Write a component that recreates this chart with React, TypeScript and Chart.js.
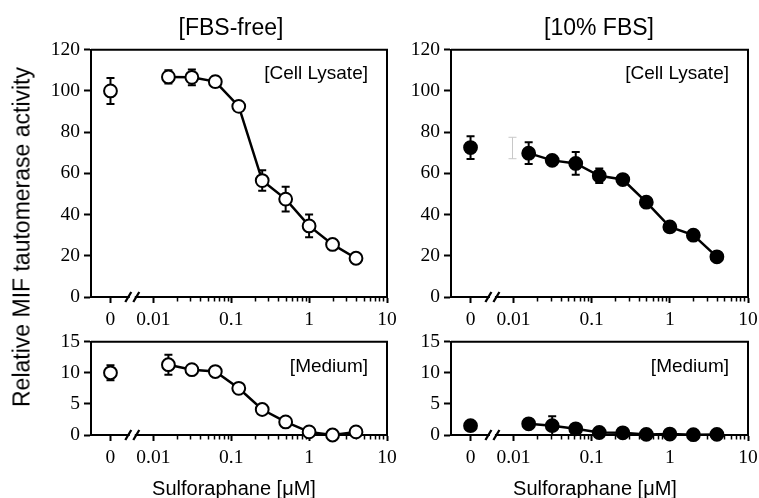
import React, { useEffect, useRef } from "react";
import { Chart, registerables } from "chart.js";

Chart.register(...registerables);

// ---------- data ----------
const concentrations = [0.015625, 0.03125, 0.0625, 0.125, 0.25, 0.5, 1, 2, 4];

const freeLysateZero = 100;
const freeLysateZeroErr = 6.3;
const freeLysate = [106.8, 106.6, 104.5, 92.5, 56.5, 47.5, 34.5, 25.5, 18.8];
const freeLysateErr = [3.2, 3.8, 2.5, 0, 5, 6, 5.5, 1, 0.8];

const fbsLysateZero = 72.5;
const fbsLysateZeroErr = 5.5;
const fbsLysate = [69.8, 66.3, 64.8, 58.8, 57, 46, 34, 30, 19.5];
const fbsLysateErr = [5.3, 1.5, 5.5, 3.5, 1.5, 2, 1.5, 1.5, 1];
const fbsLysateGhost = 72.3;
const fbsLysateGhostErr = 5.2;
const fbsLysateGhostConc = 0.0097;

const freeMediumZero = 10;
const freeMediumZeroErr = 1.2;
const freeMedium = [11.3, 10.5, 10.2, 7.5, 4.1, 2.1, 0.5, 0, 0.5];
const freeMediumErr = [1.6, 0.4, 0.6, 0.4, 0.7, 0.3, 0.4, 0.2, 0.3];

const fbsMediumZero = 1.5;
const fbsMediumZeroErr = 0.3;
const fbsMedium = [1.8, 1.5, 1.0, 0.4, 0.35, 0.1, 0.15, 0.05, 0.1];
const fbsMediumErr = [0.3, 1.5, 0.4, 0.3, 0.3, 0.5, 0.6, 0.2, 0.2];

// x axis: the "0" dose is drawn left of a break in the log axis
const ZERO_POS = Math.pow(10, -2.55);
const BREAK_POS = Math.pow(10, -2.27);
const X_MIN = Math.pow(10, -2.8);
const X_MAX = 10;
const xTickValues = [ZERO_POS, 0.01, 0.1, 1, 10];
const xTickLabels = ["0", "0.01", "0.1", "1", "10"];
const minorDecades = [0.01, 0.1, 1];
const minorMultipliers = [2, 3, 4, 5, 6, 7, 8, 9];

const topYMax = 120;
const topYStep = 20;
const bottomYMax = 15;
const bottomYStep = 5;

// ---------- layout ----------
const YW = 70;
const PT = 14;
const PR = 16;
const XH = 40;

const SERIF = "'Liberation Serif', 'Times New Roman', serif";
const SANS = "'Liberation Sans', Arial, sans-serif";

const decorPlugin = {
  id: "decor",
  beforeDatasetsDraw(chart: any) {
    const { ctx, chartArea } = chart;
    const xs = chart.scales.x;
    const { left, right, top, bottom } = chartArea;
    ctx.save();
    // frame top & right
    ctx.strokeStyle = "#000";
    ctx.lineWidth = 2;
    ctx.beginPath();
    ctx.moveTo(left, top);
    ctx.lineTo(right, top);
    ctx.lineTo(right, bottom);
    ctx.stroke();
    // minor ticks
    ctx.lineWidth = 1.5;
    ctx.beginPath();
    minorDecades.forEach((d) => {
      minorMultipliers.forEach((m) => {
        const px = Math.round(xs.getPixelForValue(d * m)) + 0.5;
        ctx.moveTo(px, bottom);
        ctx.lineTo(px, bottom + 4.5);
      });
    });
    ctx.stroke();
    // axis break
    const bx = xs.getPixelForValue(BREAK_POS);
    ctx.fillStyle = "#fff";
    ctx.fillRect(bx - 2.5, bottom - 2, 5, 4);
    ctx.lineWidth = 2.3;
    ctx.beginPath();
    ctx.moveTo(bx - 7, bottom + 5);
    ctx.lineTo(bx - 1, bottom - 5);
    ctx.moveTo(bx + 1, bottom + 5);
    ctx.lineTo(bx + 7, bottom - 5);
    ctx.stroke();
    // error bars
    const ys = chart.scales.y;
    chart.data.datasets.forEach((ds: any, di: number) => {
      const errs = ds.errors;
      if (!errs) return;
      const meta = chart.getDatasetMeta(di);
      ctx.strokeStyle = ds.errColor || "#000";
      ctx.lineWidth = ds.errWidth || 2;
      meta.data.forEach((pt: any, i: number) => {
        const e = errs[i];
        if (!e) return;
        const v = ds.data[i].y;
        const x = pt.x;
        const yt = ys.getPixelForValue(v + e);
        const yb = ys.getPixelForValue(v - e);
        const cw = 4;
        ctx.beginPath();
        ctx.moveTo(x, yt);
        ctx.lineTo(x, yb);
        ctx.moveTo(x - cw, yt);
        ctx.lineTo(x + cw, yt);
        ctx.moveTo(x - cw, yb);
        ctx.lineTo(x + cw, yb);
        ctx.stroke();
      });
    });
    ctx.restore();
  },
};

type PanelProps = {
  plotLeft: number;
  plotTop: number;
  plotW: number;
  plotH: number;
  yMax: number;
  yStep: number;
  filled: boolean;
  zeroVal: number;
  zeroErr: number;
  vals: number[];
  errs: number[];
  ghost?: { x: number; y: number; err: number };
};

function Panel(p: PanelProps) {
  const ref = useRef<HTMLCanvasElement | null>(null);
  const cw = YW + p.plotW + PR;
  const ch = PT + p.plotH + XH;
  useEffect(() => {
    const canvas = ref.current!;
    const fill = p.filled ? "#000" : "#fff";
    const pointStyle = {
      pointRadius: 6.4,
      pointBackgroundColor: fill,
      pointBorderColor: "#000",
      pointBorderWidth: 2,
      pointHoverRadius: 6.4,
    };
    const datasets: any[] = [];
    if (p.ghost) {
      datasets.push({
        data: [{ x: p.ghost.x, y: p.ghost.y }],
        errors: [p.ghost.err],
        errColor: "#c8c8c8",
        errWidth: 1,
        pointRadius: 0,
        showLine: false,
        clip: false,
      });
    }
    datasets.push({
      data: [{ x: ZERO_POS, y: p.zeroVal }],
      errors: [p.zeroErr],
      showLine: false,
      clip: false,
      ...pointStyle,
    });
    datasets.push({
      data: concentrations.map((c, i) => ({ x: c, y: p.vals[i] })),
      errors: p.errs,
      showLine: true,
      borderColor: "#000",
      borderWidth: 2.5,
      clip: false,
      ...pointStyle,
    });
    const tickFont = { family: SERIF, size: 19.5 };
    const chart = new Chart(canvas, {
      type: "scatter",
      data: { datasets },
      options: {
        animation: false,
        responsive: false,
        devicePixelRatio: 1,
        events: [],
        layout: {
          padding: { top: PT, right: PR, left: 0, bottom: 0 },
          autoPadding: false,
        } as any,
        plugins: {
          legend: { display: false },
          tooltip: { enabled: false },
          title: { display: false },
        },
        scales: {
          x: {
            type: "logarithmic",
            min: X_MIN,
            max: X_MAX,
            afterFit: (s: any) => {
              s.height = XH;
            },
            afterBuildTicks: (s: any) => {
              s.ticks = xTickValues.map((v) => ({ value: v, major: false }));
            },
            ticks: {
              callback: (_v: any, i: number) => xTickLabels[i],
              autoSkip: false,
              maxRotation: 0,
              minRotation: 0,
              font: tickFont,
              color: "#000",
              padding: 5,
            },
            grid: {
              drawOnChartArea: false,
              drawTicks: true,
              tickLength: 6,
              tickWidth: 2,
              tickColor: "#000",
              color: "#000",
            },
            border: { display: true, color: "#000", width: 2 },
          } as any,
          y: {
            type: "linear",
            min: 0,
            max: p.yMax,
            afterFit: (s: any) => {
              s.width = YW;
            },
            ticks: {
              stepSize: p.yStep,
              font: tickFont,
              color: "#000",
              padding: 4,
            },
            grid: {
              drawOnChartArea: false,
              drawTicks: true,
              tickLength: 7,
              tickWidth: 2,
              tickColor: "#000",
              color: "#000",
            },
            border: { display: true, color: "#000", width: 2 },
          },
        },
      },
      plugins: [decorPlugin],
    });
    return () => chart.destroy();
  }, []);
  return (
    <canvas
      ref={ref}
      width={cw}
      height={ch}
      style={{
        position: "absolute",
        left: p.plotLeft - YW,
        top: p.plotTop - PT,
        width: cw,
        height: ch,
      }}
    />
  );
}

function Label(props: {
  text: string;
  cx?: number;
  right?: number;
  cy: number;
  size: number;
  rotate?: boolean;
}) {
  const style: any = {
    position: "absolute",
    top: props.cy,
    fontFamily: SANS,
    fontSize: props.size,
    color: "#000",
    whiteSpace: "nowrap",
    lineHeight: 1,
  };
  if (props.right !== undefined) {
    style.right = 759 - props.right;
    style.transform = "translateY(-50%)";
  } else {
    style.left = props.cx;
    style.transform = props.rotate
      ? "translate(-50%, -50%) rotate(-90deg)"
      : "translate(-50%, -50%)";
  }
  return <div style={style}>{props.text}</div>;
}

export default function App() {
  return (
    <div
      style={{
        position: "absolute",
        left: 0,
        top: 0,
        width: 759,
        height: 498,
        background: "#fff",
        overflow: "hidden",
      }}
    >
      <Panel
        plotLeft={91}
        plotTop={48}
        plotW={296}
        plotH={249}
        yMax={topYMax}
        yStep={topYStep}
        filled={false}
        zeroVal={freeLysateZero}
        zeroErr={freeLysateZeroErr}
        vals={freeLysate}
        errs={freeLysateErr}
      />
      <Panel
        plotLeft={451}
        plotTop={48}
        plotW={297}
        plotH={249}
        yMax={topYMax}
        yStep={topYStep}
        filled={true}
        zeroVal={fbsLysateZero}
        zeroErr={fbsLysateZeroErr}
        vals={fbsLysate}
        errs={fbsLysateErr}
        ghost={{ x: fbsLysateGhostConc, y: fbsLysateGhost, err: fbsLysateGhostErr }}
      />
      <Panel
        plotLeft={91}
        plotTop={340}
        plotW={296}
        plotH={95}
        yMax={bottomYMax}
        yStep={bottomYStep}
        filled={false}
        zeroVal={freeMediumZero}
        zeroErr={freeMediumZeroErr}
        vals={freeMedium}
        errs={freeMediumErr}
      />
      <Panel
        plotLeft={451}
        plotTop={340}
        plotW={297}
        plotH={95}
        yMax={bottomYMax}
        yStep={bottomYStep}
        filled={true}
        zeroVal={fbsMediumZero}
        zeroErr={fbsMediumZeroErr}
        vals={fbsMedium}
        errs={fbsMediumErr}
      />
      <Label text="[FBS-free]" cx={231} cy={27} size={23} />
      <Label text="[10% FBS]" cx={599} cy={27} size={23} />
      <Label text="[Cell Lysate]" right={368} cy={72} size={19} />
      <Label text="[Cell Lysate]" right={729} cy={72} size={19} />
      <Label text="[Medium]" right={368} cy={365} size={19} />
      <Label text="[Medium]" right={729} cy={365} size={19} />
      <Label text="Sulforaphane [μM]" cx={234} cy={488} size={20} />
      <Label text="Sulforaphane [μM]" cx={595} cy={488} size={20} />
      <Label text="Relative MIF tautomerase activity" cx={22} cy={237} size={23} rotate />
    </div>
  );
}
